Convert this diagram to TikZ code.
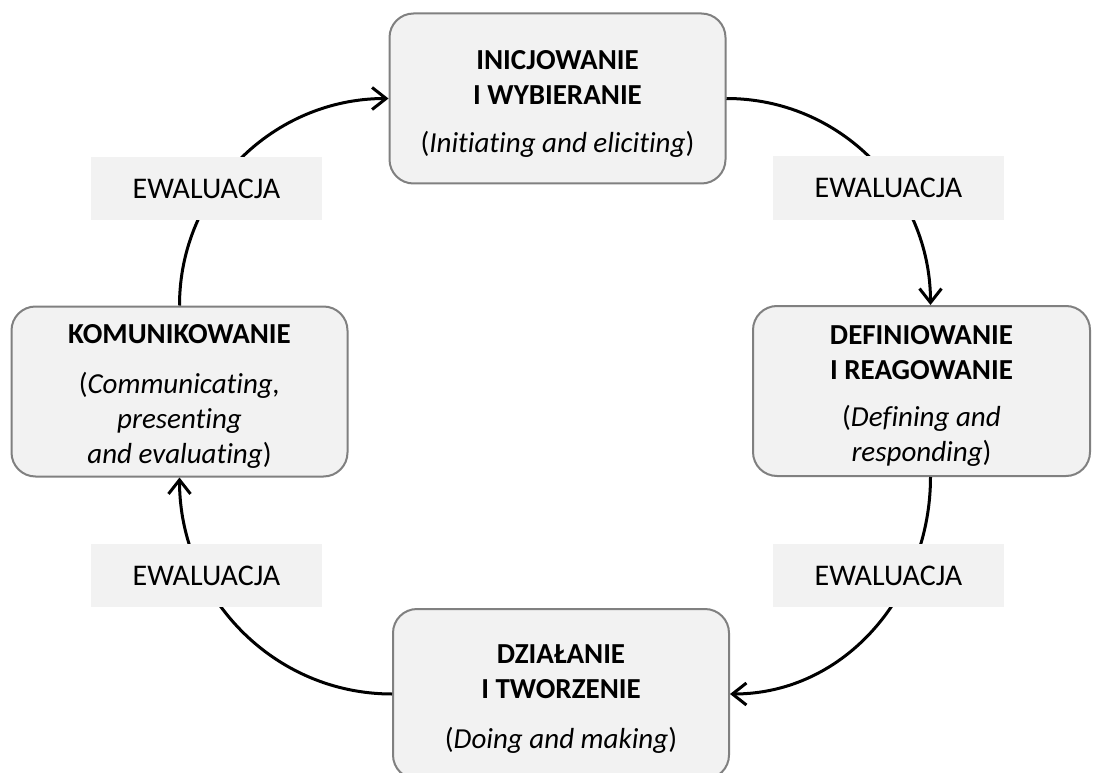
\documentclass[tikz,border=0pt]{standalone}
\usepackage{fontspec}
\setmainfont{Carlito}[Ligatures=NoCommon]
\usetikzlibrary{arrows.meta}
\definecolor{boxfill}{HTML}{F2F2F2}
\definecolor{boxline}{HTML}{808080}
\newcommand\toppad{\rule{0pt}{29pt}}
\begin{document}
\begin{tikzpicture}[x=1pt,y=-1pt,
  stagebox/.style={draw=boxline, line width=2pt, fill=boxfill, rounded corners=24pt,
    minimum width=336pt, minimum height=170pt, align=center, inner sep=0pt,
    font=\fontsize{29}{35}\selectfont},
  evalbox/.style={fill=boxfill, minimum width=231pt, minimum height=63pt, inner sep=0pt,
    font=\fontsize{30}{34}\selectfont},
  flow/.style={line width=3pt, -{Straight Barb[length=14pt,width=22pt,line width=3pt]}}]
\useasboundingbox (0,0) rectangle (1093,773);
\node[stagebox] (top) at (557.5,98.5)
  {\toppad\textbf{INICJOWANIE}\\\textbf{I WYBIERANIE}\\[13pt](\textit{Initiating and eliciting})};
\node[stagebox, minimum width=337pt] (right) at (921.5,391)
  {\toppad\textbf{DEFINIOWANIE}\\\textbf{I REAGOWANIE}\\[12pt](\textit{Defining and}\\\textit{responding})};
\node[stagebox] (bottom) at (561,694)
  {\toppad\textbf{DZIAŁANIE}\\\textbf{I TWORZENIE}\\[15pt](\textit{Doing and making})};
\node[stagebox] (left) at (179.5,391.5)
  {\toppad\textbf{KOMUNIKOWANIE}\\[15pt](\textit{Communicating,}\\\textit{presenting}\\\textit{and evaluating})};
\coordinate (rtop) at ([xshift=9pt]right.north);
\coordinate (rbot) at ([xshift=9pt]right.south);
\draw[flow] (top.east) to[out=0,in=90] (rtop);
\draw[flow] (rbot) to[out=-90,in=0] (bottom.east);
\draw[flow] (bottom.west) to[out=180,in=-90] (left.south);
\draw[flow] (left.north) to[out=90,in=180] (top.west);
\node[evalbox] (e1) at (888.5,188) {EWALUACJA};
\node[evalbox] (e2) at (888.5,575.5) {EWALUACJA};
\node[evalbox] (e3) at (206.5,575.5) {EWALUACJA};
\node[evalbox] (e4) at (206.5,188.5) {EWALUACJA};
\end{tikzpicture}
\end{document}
